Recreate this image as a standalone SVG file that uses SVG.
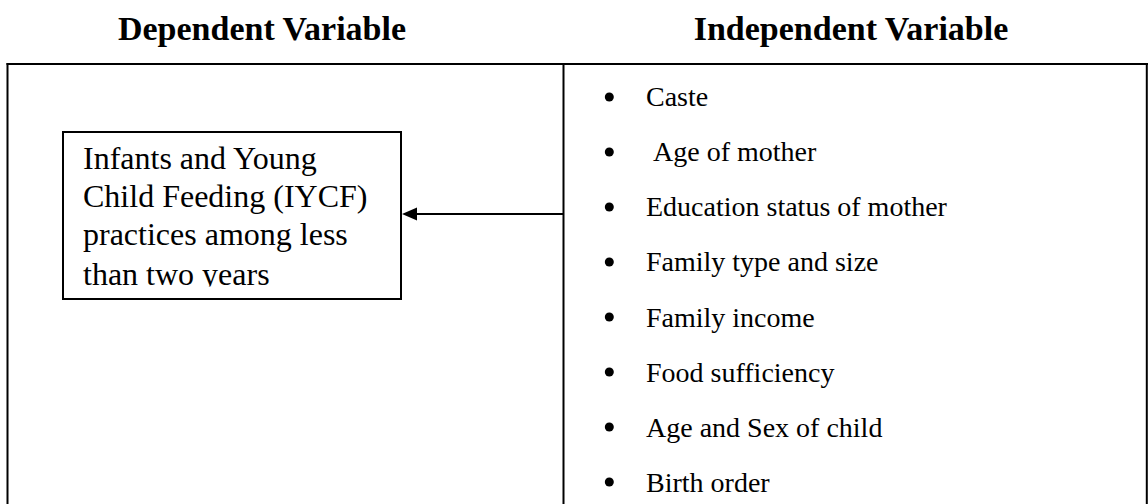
<svg xmlns="http://www.w3.org/2000/svg" width="1148" height="504" viewBox="0 0 1148 504">
  <style>
    .hdr { font-family: "Liberation Serif", "Times New Roman", serif; font-weight: bold; font-size: 34px; fill: #000; text-anchor: middle; }
    .body { font-family: "Liberation Serif", "Times New Roman", serif; font-size: 32px; fill: #000; }
    .item { font-family: "Liberation Serif", "Times New Roman", serif; font-size: 28px; fill: #000; }
    .frame { stroke: #000; stroke-width: 2; fill: none; }
    .bullet { fill: #000; }
  </style>
  <defs>
    <clipPath id="boxclip">
      <rect x="63" y="132" width="338" height="154.5"/>
    </clipPath>
  </defs>
  <rect width="1148" height="504" fill="#fff"/>

  <g id="headers">
    <text class="hdr" x="262" y="40">Dependent Variable</text>
    <text class="hdr" x="851" y="40">Independent Variable</text>
  </g>

  <g id="frame">
    <line class="frame" x1="6.5" y1="64" x2="1148" y2="64" stroke-width="2.5"/>
    <line class="frame" x1="7.5" y1="63" x2="7.5" y2="504"/>
    <line class="frame" x1="563.5" y1="64" x2="563.5" y2="504"/>
    <line class="frame" x1="1146.8" y1="64" x2="1146.8" y2="504" stroke-width="1.5"/>
  </g>

  <g id="dependent">
    <rect x="63" y="132" width="338" height="167" fill="#fff" stroke="#000" stroke-width="2"/>
    <g clip-path="url(#boxclip)">
      <text class="body" x="83" y="168.7">Infants and Young</text>
      <text class="body" x="83" y="206.7">Child Feeding (IYCF)</text>
      <text class="body" x="83" y="244.7">practices among less</text>
      <text class="body" x="83" y="284.5">than two years</text>
    </g>
  </g>

  <g id="independent">
    <circle class="bullet" cx="609.3" cy="97" r="4.5"/>
    <text class="item" x="646" y="106">Caste</text>
    <circle class="bullet" cx="609.3" cy="152" r="4.5"/>
    <text class="item" x="653" y="161">Age of mother</text>
    <circle class="bullet" cx="609.3" cy="207" r="4.5"/>
    <text class="item" x="646" y="216">Education status of mother</text>
    <circle class="bullet" cx="609.3" cy="262" r="4.5"/>
    <text class="item" x="646" y="271">Family type and size</text>
    <circle class="bullet" cx="609.3" cy="317" r="4.5"/>
    <text class="item" x="646" y="326.5">Family income</text>
    <circle class="bullet" cx="609.3" cy="372" r="4.5"/>
    <text class="item" x="646" y="381.5">Food sufficiency</text>
    <circle class="bullet" cx="609.3" cy="427" r="4.5"/>
    <text class="item" x="646" y="436.5">Age and Sex of child</text>
    <circle class="bullet" cx="609.3" cy="482" r="4.5"/>
    <text class="item" x="646" y="491.5">Birth order</text>
  </g>

  <g id="connectors">
    <line x1="563" y1="214" x2="416" y2="214" stroke="#000" stroke-width="1.8"/>
    <path d="M402,214 L417,207.5 L417,220.5 Z" fill="#000"/>
  </g>
</svg>
